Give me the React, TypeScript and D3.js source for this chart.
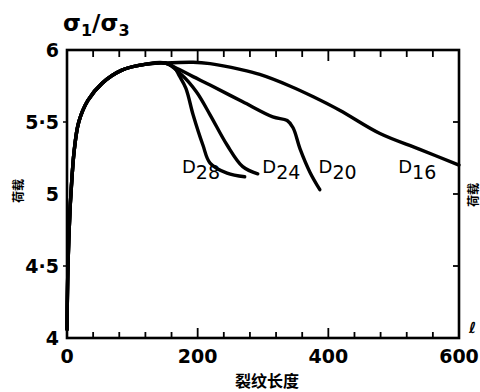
import React from "react";
import * as d3 from "d3";

const W = 480;
const H = 392;

// x ticks every 40 units, labelled every 200
const xTickValues = d3.range(40, 600, 40);
const xLabelValues = [0, 200, 400, 600];
const yLabelValues = [6, 5.5, 5, 4.5, 4];
const yLabelTexts = ["6", "5·5", "5", "4·5", "4"];
const rightTickValues = [5.5, 5, 4.5];
const leftTickValues = [5.5, 4.5];

// shared rising part
const riseX = [0, 1.5, 4.5, 6, 11, 18, 32, 54, 84, 119, 150];
const riseY = [4.06, 4.5, 4.88, 5.0, 5.3, 5.5, 5.65, 5.77, 5.86, 5.9, 5.91];

const d16X = [193, 219, 265, 295, 341, 377, 418, 479, 540, 600];
const d16Y = [5.915, 5.905, 5.865, 5.83, 5.75, 5.675, 5.58, 5.42, 5.31, 5.2];

const d20X = [165, 193, 219, 269, 315, 337, 346, 357, 372, 387];
const d20Y = [5.88, 5.815, 5.757, 5.64, 5.535, 5.51, 5.46, 5.31, 5.15, 5.03];

const d24X = [175, 198, 219, 245, 269, 292];
const d24Y = [5.83, 5.71, 5.55, 5.34, 5.19, 5.14];

const d28X = [164, 172, 182, 193, 208, 219, 245, 272];
const d28Y = [5.88, 5.82, 5.734, 5.55, 5.34, 5.215, 5.145, 5.12];

const seriesNames = ["16", "20", "24", "28"];
const seriesXs = [d16X, d20X, d24X, d28X];
const seriesYs = [d16Y, d20Y, d24Y, d28Y];
// label anchor (data coords) for each series
const labelX = [507, 385, 299, 176];
const labelY = [5.08, 5.08, 5.08, 5.08];

const X0 = 67, X1 = 459, Y0 = 338, Y1 = 50;

export default function App() {
  const x = d3.scaleLinear().domain([0, 600]).range([X0, X1]);
  const y = d3.scaleLinear().domain([4, 6]).range([Y0, Y1]);
  const line = d3
    .line<[number, number]>()
    .x((d) => x(d[0]))
    .y((d) => y(d[1]))
    .curve(d3.curveCatmullRom.alpha(0.5));

  const paths = seriesXs.map((xs, i) => {
    const pts: [number, number][] = riseX.map((v, j) => [v, riseY[j]]);
    xs.forEach((v, j) => pts.push([v, seriesYs[i][j]]));
    return line(pts) as string;
  });

  const font = "'DejaVu Sans', sans-serif";
  const cjk = "'Noto Sans CJK SC', sans-serif";

  return (
    <svg
      width={W}
      height={H}
      style={{ position: "fixed", left: 0, top: 0, background: "#fff" }}
      fontFamily={font}
    >
      <rect x={0} y={0} width={W} height={H} fill="#fff" />
      {/* title */}
      <text x={63} y={31} fontSize={23} fontWeight="bold" fill="#000">
        σ<tspan fontSize={16} dy={5}>1</tspan>
        <tspan dy={-5}>/σ</tspan>
        <tspan fontSize={16} dy={5}>3</tspan>
      </text>

      {/* frame */}
      <rect x={X0} y={Y1} width={X1 - X0} height={Y0 - Y1} fill="none" stroke="#000" strokeWidth={2.6} />

      {/* bottom ticks */}
      {xTickValues.map((v) => (
        <line key={"b" + v} x1={x(v)} x2={x(v)} y1={Y0} y2={Y0 - (v % 200 === 0 ? 10 : 6)} stroke="#000" strokeWidth={1.8} />
      ))}
      {/* top ticks */}
      {xTickValues.map((v) => (
        <line key={"t" + v} x1={x(v)} x2={x(v)} y1={Y1} y2={Y1 + (v % 200 === 0 ? 11 : 7)} stroke="#000" strokeWidth={1.8} />
      ))}
      {/* right ticks */}
      {rightTickValues.map((v) => (
        <line key={"r" + v} x1={X1} x2={X1 - 6} y1={y(v)} y2={y(v)} stroke="#000" strokeWidth={1.8} />
      ))}
      {/* left ticks */}
      {leftTickValues.map((v) => (
        <line key={"l" + v} x1={X0} x2={X0 - 4} y1={y(v)} y2={y(v)} stroke="#000" strokeWidth={1.5} />
      ))}

      {/* y labels */}
      {yLabelValues.map((v, i) => (
        <text key={"yl" + v} x={59} y={y(v) + 7} fontSize={19} fontWeight="bold" textAnchor="end" fill="#000">
          {yLabelTexts[i]}
        </text>
      ))}
      {/* x labels */}
      {xLabelValues.map((v) => (
        <text key={"xl" + v} x={x(v)} y={363} fontSize={19} fontWeight="bold" textAnchor="middle" fill="#000">
          {v}
        </text>
      ))}

      {/* curves */}
      {paths.map((p, i) => (
        <path key={"p" + i} d={p} fill="none" stroke="#000" strokeWidth={3.4} strokeLinejoin="round" strokeLinecap="round" />
      ))}

      {/* series labels */}
      {seriesNames.map((n, i) => (
        <text key={"s" + n} x={x(labelX[i])} y={y(labelY[i]) - 9} fontSize={18} fill="#000">
          D<tspan fontSize={19} dy={6}>{n}</tspan>
        </text>
      ))}

      {/* axis titles */}
      <text x={267} y={387} fontSize={16} textAnchor="middle" fill="#000" fontFamily={cjk} fontWeight="bold">
        裂纹长度
      </text>
      <text
        transform="translate(23,191) rotate(-90)"
        fontSize={12}
        textAnchor="middle"
        fill="#000"
        fontFamily={cjk}
        fontWeight="bold"
      >
        荷载
      </text>
      <text
        transform="translate(478,195) rotate(-90)"
        fontSize={12}
        textAnchor="middle"
        fill="#000"
        fontFamily={cjk}
        fontWeight="bold"
      >
        荷载
      </text>
      <text x={469} y={333} fontSize={15} fill="#000" fontWeight="bold">
        ℓ
      </text>
    </svg>
  );
}
